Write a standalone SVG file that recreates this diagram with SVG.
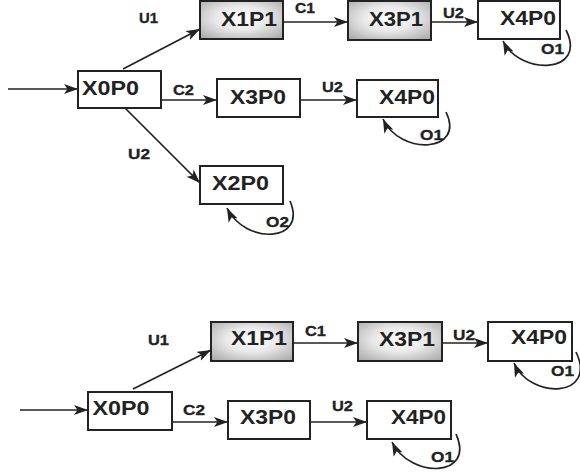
<svg xmlns="http://www.w3.org/2000/svg" width="580" height="476" viewBox="0 0 580 476">
<style>
.box{fill:#fff;stroke:#222;stroke-width:2}
.g{fill:url(#grad);stroke:#222;stroke-width:2}
.n{font-family:"Liberation Sans",Arial,sans-serif;font-weight:bold;font-size:20px;fill:#222}
.l{font-family:"Liberation Sans",Arial,sans-serif;font-weight:bold;font-size:14px;fill:#222;stroke:#222;stroke-width:0.3}
.e{fill:none;stroke:#222;stroke-width:1.7;marker-end:url(#ah)}
</style>
<defs>
<radialGradient id="grad" cx="50%" cy="45%" r="70%">
<stop offset="0" stop-color="#ffffff"/>
<stop offset="0.45" stop-color="#e9e9e9"/>
<stop offset="1" stop-color="#ababab"/>
</radialGradient>
<marker id="ah" markerUnits="userSpaceOnUse" markerWidth="15" markerHeight="11" refX="14" refY="5" orient="auto">
<path d="M0,0 L14,5 L0,10 L3.5,5 z" fill="#222"/>
</marker>
</defs>
<g id="connectors">
<line class="e" x1="8" y1="89" x2="78" y2="89"/>
<line class="e" x1="123" y1="69" x2="200" y2="29"/>
<line class="e" x1="161" y1="100" x2="217" y2="100"/>
<line class="e" x1="125" y1="108" x2="200" y2="183"/>
<line class="e" x1="283" y1="22" x2="348" y2="22"/>
<line class="e" x1="431" y1="22" x2="478" y2="22"/>
<line class="e" x1="300" y1="100" x2="357" y2="100"/>
<path class="e" d="M566,30 C588,74 520,76 503,41"/>
<path class="e" d="M446,112 C466,153 400,156 383,119"/>
<path class="e" d="M290,201 C308,243 245,245 227,208"/>
<line class="e" x1="20" y1="410" x2="88" y2="410"/>
<line class="e" x1="133" y1="389" x2="211" y2="350"/>
<line class="e" x1="172" y1="422" x2="228" y2="422"/>
<line class="e" x1="293" y1="343" x2="358" y2="343"/>
<line class="e" x1="442" y1="343" x2="488" y2="343"/>
<line class="e" x1="310" y1="422" x2="367" y2="422"/>
<path class="e" d="M576,352 C598,398 530,400 514,363"/>
<path class="e" d="M456,434 C476,478 410,479 392,442"/>
<text class="l" x="139" y="23" textLength="19" lengthAdjust="spacingAndGlyphs">U1</text>
<text class="l" x="173" y="95" textLength="21" lengthAdjust="spacingAndGlyphs">C2</text>
<text class="l" x="128" y="159" textLength="22" lengthAdjust="spacingAndGlyphs">U2</text>
<text class="l" x="295" y="13" textLength="20" lengthAdjust="spacingAndGlyphs">C1</text>
<text class="l" x="443" y="18" textLength="21" lengthAdjust="spacingAndGlyphs">U2</text>
<text class="l" x="322" y="92" textLength="21" lengthAdjust="spacingAndGlyphs">U2</text>
<text class="l" x="541" y="54" textLength="23" lengthAdjust="spacingAndGlyphs">O1</text>
<text class="l" x="420" y="140" textLength="23" lengthAdjust="spacingAndGlyphs">O1</text>
<text class="l" x="266" y="227" textLength="23" lengthAdjust="spacingAndGlyphs">O2</text>
<text class="l" x="148" y="345" textLength="21" lengthAdjust="spacingAndGlyphs">U1</text>
<text class="l" x="183" y="415" textLength="22" lengthAdjust="spacingAndGlyphs">C2</text>
<text class="l" x="305" y="336" textLength="21" lengthAdjust="spacingAndGlyphs">C1</text>
<text class="l" x="453" y="340" textLength="22" lengthAdjust="spacingAndGlyphs">U2</text>
<text class="l" x="332" y="411" textLength="21" lengthAdjust="spacingAndGlyphs">U2</text>
<text class="l" x="551" y="376" textLength="23" lengthAdjust="spacingAndGlyphs">O1</text>
<text class="l" x="431" y="462" textLength="23" lengthAdjust="spacingAndGlyphs">O1</text>
</g>
<g id="a_X0P0"><rect class="box" x="78" y="71" width="83" height="37"/><text class="n" x="82" y="94.5" textLength="57" lengthAdjust="spacingAndGlyphs">X0P0</text></g>
<g id="a_X1P1"><rect class="g" x="200" y="1" width="83" height="38"/><text class="n" x="221" y="26" textLength="56" lengthAdjust="spacingAndGlyphs">X1P1</text></g>
<g id="a_X3P1"><rect class="g" x="348" y="1" width="83" height="39"/><text class="n" x="369" y="26" textLength="54" lengthAdjust="spacingAndGlyphs">X3P1</text></g>
<g id="a_X4P0_1"><rect class="box" x="478" y="1" width="82" height="38"/><text class="n" x="500" y="25" textLength="56" lengthAdjust="spacingAndGlyphs">X4P0</text></g>
<g id="a_X3P0"><rect class="box" x="217" y="79" width="83" height="38"/><text class="n" x="230" y="103.5" textLength="56" lengthAdjust="spacingAndGlyphs">X3P0</text></g>
<g id="a_X4P0_2"><rect class="box" x="357" y="80" width="81" height="37"/><text class="n" x="379" y="104" textLength="56" lengthAdjust="spacingAndGlyphs">X4P0</text></g>
<g id="a_X2P0"><rect class="box" x="200" y="166" width="83" height="38"/><text class="n" x="212" y="189.5" textLength="57" lengthAdjust="spacingAndGlyphs">X2P0</text></g>
<g id="b_X0P0"><rect class="box" x="88" y="392" width="84" height="38"/><text class="n" x="92.5" y="415" textLength="57" lengthAdjust="spacingAndGlyphs">X0P0</text></g>
<g id="b_X1P1"><rect class="g" x="211" y="322" width="82" height="39"/><text class="n" x="231" y="345" textLength="56" lengthAdjust="spacingAndGlyphs">X1P1</text></g>
<g id="b_X3P1"><rect class="g" x="358" y="322" width="84" height="39"/><text class="n" x="379" y="346" textLength="56" lengthAdjust="spacingAndGlyphs">X3P1</text></g>
<g id="b_X4P0_1"><rect class="box" x="488" y="322" width="84" height="39"/><text class="n" x="511" y="343.5" textLength="56" lengthAdjust="spacingAndGlyphs">X4P0</text></g>
<g id="b_X3P0"><rect class="box" x="228" y="401" width="82" height="38"/><text class="n" x="240" y="424" textLength="56" lengthAdjust="spacingAndGlyphs">X3P0</text></g>
<g id="b_X4P0_2"><rect class="box" x="367" y="401" width="84" height="38"/><text class="n" x="391" y="423.5" textLength="55" lengthAdjust="spacingAndGlyphs">X4P0</text></g>
</svg>
